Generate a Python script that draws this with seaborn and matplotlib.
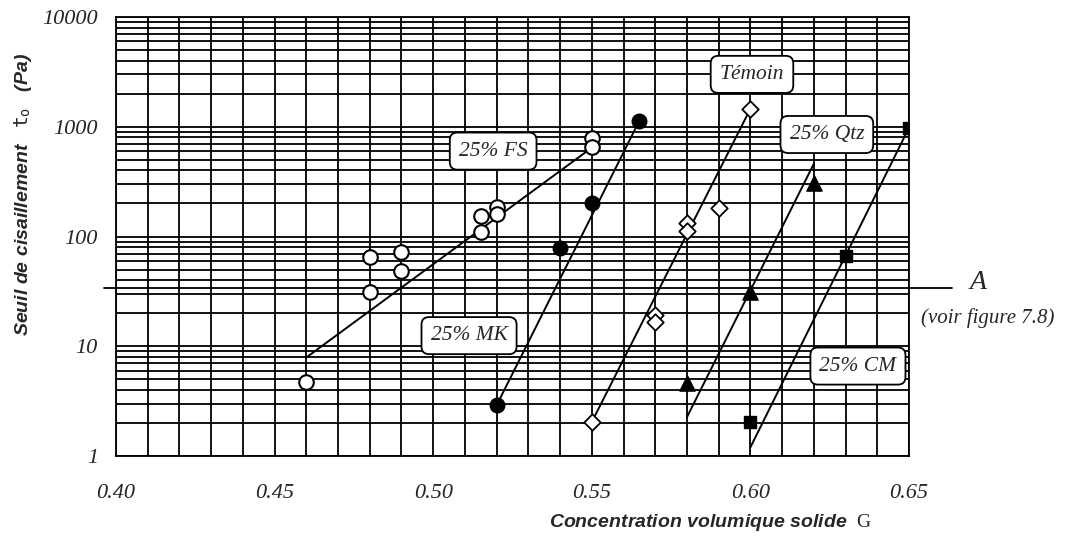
import numpy as np
import pandas as pd
import matplotlib
matplotlib.use("Agg")
import matplotlib.pyplot as plt
import seaborn as sns
from matplotlib.ticker import FixedLocator, NullFormatter, FixedFormatter

# ---------------- data ----------------
fs_x = [0.46, 0.48, 0.48, 0.49, 0.49, 0.515, 0.515, 0.52, 0.52, 0.55, 0.55]
fs_y = [4.7, 65, 31, 72, 49, 155, 110, 185, 162, 790, 660]
fs_line_x = [0.46, 0.55]
fs_line_y = [7.9, 645]

mk_x = [0.52, 0.54, 0.55, 0.565]
mk_y = [2.9, 78, 200, 1135]
mk_line_x = [0.52, 0.565]
mk_line_y = [2.9, 1135]

tm_x = [0.55, 0.57, 0.57, 0.58, 0.58, 0.59, 0.60]
tm_y = [2.04, 19.1, 16.5, 134, 113, 180, 1458]
tm_line_x = [0.55, 0.60]
tm_line_y = [2.04, 1458]

qtz_x = [0.58, 0.60, 0.62]
qtz_y = [4.6, 31, 310]
qtz_line_x = [0.58, 0.62]
qtz_line_y = [2.26, 460]

cm_x = [0.60, 0.63, 0.65]
cm_y = [2.04, 67, 980]
cm_line_x = [0.60, 0.65]
cm_line_y = [1.2, 980]

a_level = 34

labels = ["25% FS", "25% MK", "Témoin", "25% Qtz", "25% CM"]
label_x = [0.5189, 0.5113, 0.6005, 0.6241, 0.6339]
label_y = [600, 12.5, 3000, 850, 6.6]

x_ticks = [0.40, 0.45, 0.50, 0.55, 0.60, 0.65]
x_tick_labels = ["0.40", "0.45", "0.50", "0.55", "0.60", "0.65"]
y_ticks = [1, 10, 100, 1000, 10000]
y_tick_labels = ["1", "10", "100", "1000", "10000"]

# ---------------- style ----------------
sns.set_style("white")
plt.rcParams["font.family"] = ["Liberation Sans", "DejaVu Sans"]
plt.rcParams["mathtext.fontset"] = "custom"
plt.rcParams["mathtext.rm"] = "Liberation Serif"
plt.rcParams["mathtext.it"] = "Liberation Serif:italic"
plt.rcParams["mathtext.tt"] = "DejaVu Sans Mono"

fig = plt.figure(figsize=(10.65, 5.39), dpi=100)
ax = fig.add_axes([116 / 1065, 83 / 539, 793 / 1065, 439 / 539])

ax.set_yscale("log")
ax.set_xlim(0.40, 0.65)
ax.set_ylim(1, 10000)

# grid
minor_x = [round(0.40 + 0.01 * i, 2) for i in range(26)]
ax.xaxis.set_major_locator(FixedLocator(x_ticks))
ax.xaxis.set_major_formatter(FixedFormatter(x_tick_labels))
ax.xaxis.set_minor_locator(FixedLocator(minor_x))
ax.xaxis.set_minor_formatter(NullFormatter())
ax.yaxis.set_major_locator(FixedLocator(y_ticks))
ax.yaxis.set_major_formatter(FixedFormatter(y_tick_labels))
ax.yaxis.set_minor_locator(matplotlib.ticker.LogLocator(base=10, subs=np.arange(2, 10)))
ax.yaxis.set_minor_formatter(NullFormatter())
ax.grid(True, which="both", color="black", lw=1.3)
ax.set_axisbelow(True)

for sp in ax.spines.values():
    sp.set_color("black")
    sp.set_linewidth(1.3)

ax.tick_params(axis="both", which="both", direction="out", color="black", width=1.3)
ax.tick_params(axis="x", which="both", length=5, pad=15)
ax.tick_params(axis="y", which="major", length=7, pad=6)
ax.tick_params(axis="y", which="minor", length=5)
for lab in ax.get_xticklabels() + ax.get_yticklabels():
    lab.set_fontfamily("Liberation Serif")
    lab.set_fontstyle("italic")
    lab.set_fontsize(16)

# fit lines
for lx, ly in [(fs_line_x, fs_line_y), (mk_line_x, mk_line_y), (tm_line_x, tm_line_y),
               (qtz_line_x, qtz_line_y), (cm_line_x, cm_line_y)]:
    sns.lineplot(x=lx, y=ly, ax=ax, color="black", lw=1.4, sort=False,
                 estimator=None, zorder=3)

# markers
sns.scatterplot(x=fs_x, y=fs_y, ax=ax, marker="o", s=110, facecolor="white",
                edgecolor="black", linewidth=1.5, zorder=5)
sns.scatterplot(x=mk_x, y=mk_y, ax=ax, marker="o", s=110, color="black",
                edgecolor="black", linewidth=1, zorder=5)
sns.scatterplot(x=tm_x, y=tm_y, ax=ax, marker="D", s=70, facecolor="white",
                edgecolor="black", linewidth=1.3, zorder=5)
sns.scatterplot(x=qtz_x, y=qtz_y, ax=ax, marker="^", s=120, color="black",
                edgecolor="black", linewidth=1, zorder=5)
sns.scatterplot(x=cm_x, y=cm_y, ax=ax, marker="s", s=85, color="black",
                edgecolor="black", linewidth=1, zorder=5)

# labels in boxes
for t, lx, ly in zip(labels, label_x, label_y):
    ax.text(lx, ly, t, ha="center", va="center", fontsize=15.5,
            fontfamily="Liberation Serif", fontstyle="italic", zorder=6,
            bbox=dict(boxstyle="round,pad=0.42,rounding_size=0.35",
                      facecolor="white", edgecolor="black", lw=1.3))

# reference line A
ax.plot([-0.015, 1.054], [a_level, a_level], color="black", lw=1.3,
        transform=ax.get_yaxis_transform(), clip_on=False, zorder=4)
ax.text(1.087, 0.396, "A", transform=ax.transAxes, ha="center", va="center",
        fontsize=20, fontfamily="Liberation Serif", fontstyle="italic")
ax.text(1.099, 0.314, "(voir figure 7.8)", transform=ax.transAxes,
        ha="center", va="center", fontsize=15, fontfamily="Liberation Serif",
        fontstyle="italic")

# axis labels
ax.set_ylabel(r"Seuil de cisaillement   $\mathtt{t}_{\mathtt{o}}$   (Pa)",
              fontsize=14, fontweight="bold", fontstyle="italic")
ax.yaxis.set_label_coords(-0.104, 0.595)
ax.set_xlabel(r"Concentration volumique solide  $\mathrm{G}$",
              fontsize=14, fontweight="bold", fontstyle="italic")
ax.xaxis.set_label_coords(0.75, -0.128)

sns.despine(ax=ax, top=False, right=False)
fig.savefig("out.png", dpi=100)
